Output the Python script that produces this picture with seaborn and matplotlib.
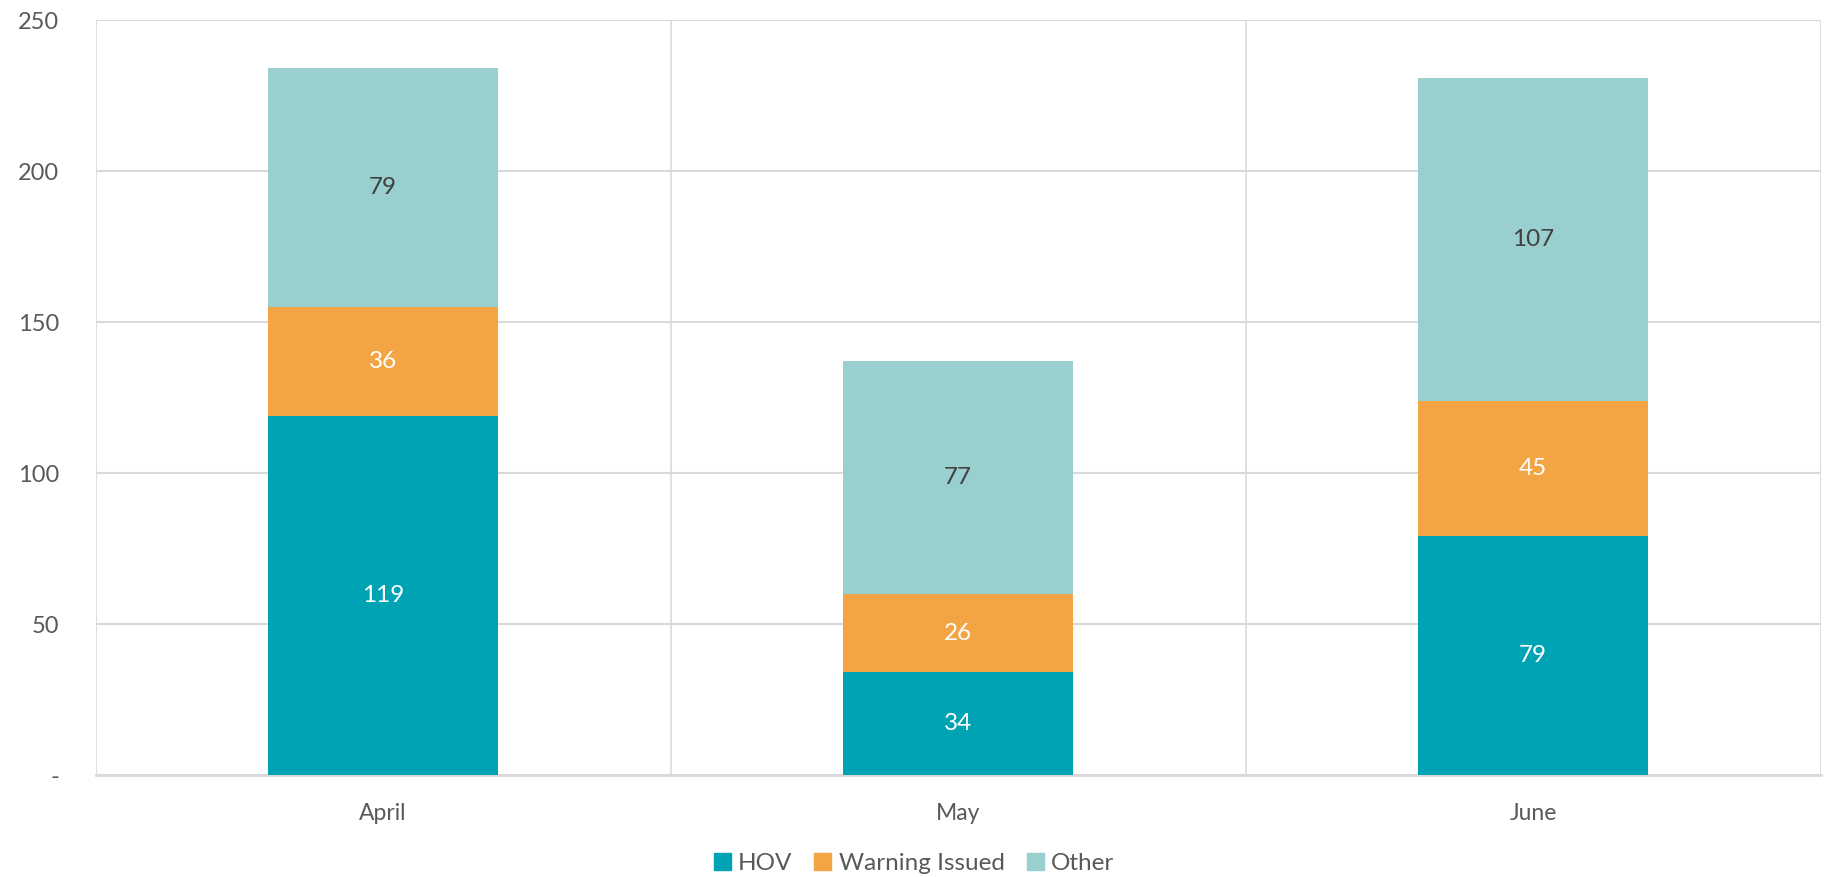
import numpy as np
import pandas as pd
import matplotlib.pyplot as plt
import seaborn as sns

months = ['April', 'May', 'June']
hov = [119, 34, 79]
warning = [36, 26, 45]
other = [79, 77, 107]

c_hov = '#00A3B4'
c_warn = '#F3A445'
c_other = '#9ACFD0'
grid_c = '#D9D9D9'
txt_c = '#595959'

sns.set_theme(style='white')
plt.rcParams['font.family'] = ['Lato', 'DejaVu Sans']

hov = np.array(hov)
warning = np.array(warning)
other = np.array(other)

df = pd.DataFrame({'month': months,
                   'hov': hov,
                   'hw': hov + warning,
                   'total': hov + warning + other})

fig = plt.figure(figsize=(18.28, 8.77), dpi=100)
ax = fig.add_axes([0.0523, 0.1163, 0.9437, 0.8607])

# stacked bars drawn as overlapping cumulative totals
sns.barplot(data=df, x='month', y='total', color=c_other, width=0.4,
            saturation=1, linewidth=0, ax=ax, zorder=3)
sns.barplot(data=df, x='month', y='hw', color=c_warn, width=0.4,
            saturation=1, linewidth=0, ax=ax, zorder=3)
sns.barplot(data=df, x='month', y='hov', color=c_hov, width=0.4,
            saturation=1, linewidth=0, ax=ax, zorder=3)

# labels in the middle of each segment
for i in range(len(months)):
    ax.text(i, hov[i] / 2, str(hov[i]), ha='center', va='center',
            color='white', fontsize=17.5, zorder=4)
    ax.text(i, hov[i] + warning[i] / 2, str(warning[i]), ha='center',
            va='center', color='white', fontsize=17.5, zorder=4)
    ax.text(i, hov[i] + warning[i] + other[i] / 2, str(other[i]),
            ha='center', va='center', color='#404040', fontsize=17.5, zorder=4)

ax.set_xlim(-0.5, 2.5)
ax.set_ylim(0, 250)
ax.set_yticks([0, 50, 100, 150, 200, 250])
ax.set_yticklabels(['-', '50', '100', '150', '200', '250'])
ax.yaxis.grid(True, color=grid_c, linewidth=1.5, zorder=0)

# category separators that run below the axis
ax.set_xticks([-0.5, 0.5, 1.5, 2.5], minor=True)
ax.xaxis.grid(True, which='minor', color=grid_c, linewidth=1.2, zorder=0)
ax.tick_params(axis='x', which='minor', length=38, color=grid_c, width=1.2)
ax.tick_params(axis='x', which='major', length=0, pad=20, labelsize=16.5,
               labelcolor=txt_c)
ax.tick_params(axis='y', length=0, pad=26, labelsize=17, labelcolor=txt_c)

for s in ['top', 'left', 'right']:
    ax.spines[s].set_visible(False)
ax.spines['bottom'].set_color(grid_c)
ax.spines['bottom'].set_linewidth(2)
ax.set_xlabel('')
ax.set_ylabel('')

handles = [plt.Rectangle((0, 0), 1, 1, color=c) for c in [c_hov, c_warn, c_other]]
fig.legend(handles, ['HOV', 'Warning Issued', 'Other'], loc='lower center',
           bbox_to_anchor=(0.5, -0.022), ncol=3, frameon=False, fontsize=17.5,
           handlelength=0.7, handleheight=0.7, handletextpad=0.3,
           columnspacing=0.9, labelcolor=txt_c)

fig.savefig('out.png', dpi=100)
